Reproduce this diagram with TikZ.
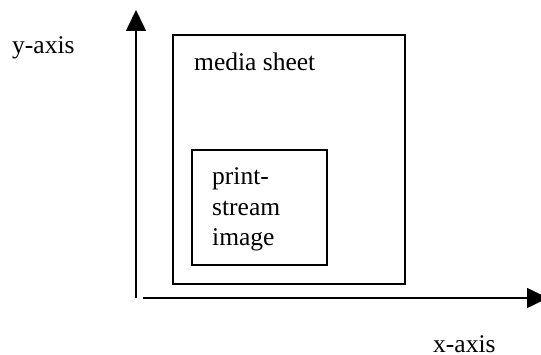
\documentclass[tikz,border=0pt]{standalone}
\usepackage{fontspec}
\setmainfont{Liberation Serif}
\usetikzlibrary{arrows.meta}
\tikzset{
  axisline/.style={line width=1.6pt, -{Triangle[length=21pt,width=20pt]}},
  frame/.style={draw, line width=1.6pt, inner sep=0pt, fill=none},
  lbl/.style={inner sep=0pt, anchor=base west, font=\fontsize{25.5}{30}\selectfont},
}
\begin{document}
\begin{tikzpicture}[x=1pt,y=1pt]
  \useasboundingbox (0,0) rectangle (541,354);
  % axes
  \coordinate (ybase) at (136,56);
  \coordinate (ytip) at (136,344);
  \coordinate (xbase) at (143,56);
  \coordinate (xtip) at (548,56);
  \draw[axisline] (ybase) -- (ytip);
  \draw[axisline] (xbase) -- (xtip);
  % media sheet and the image placed on it
  \node[frame, minimum width=232pt, minimum height=249pt] (sheet) at (289,194.5) {};
  \node[frame, minimum width=135pt, minimum height=115pt] (img) at (259.5,146.5) {};
  % labels
  \node[lbl] (sheetlbl) at (194,283) {media sheet};
  \node[lbl] (imgl1) at (212,169) {print-};
  \node[lbl] (imgl2) at (212,139) {stream};
  \node[lbl] (imgl3) at (212,109) {image};
  \node[lbl] (ylbl) at (12,300) {y-axis};
  \node[lbl] (xlbl) at (433,2) {x-axis};
\end{tikzpicture}
\end{document}
